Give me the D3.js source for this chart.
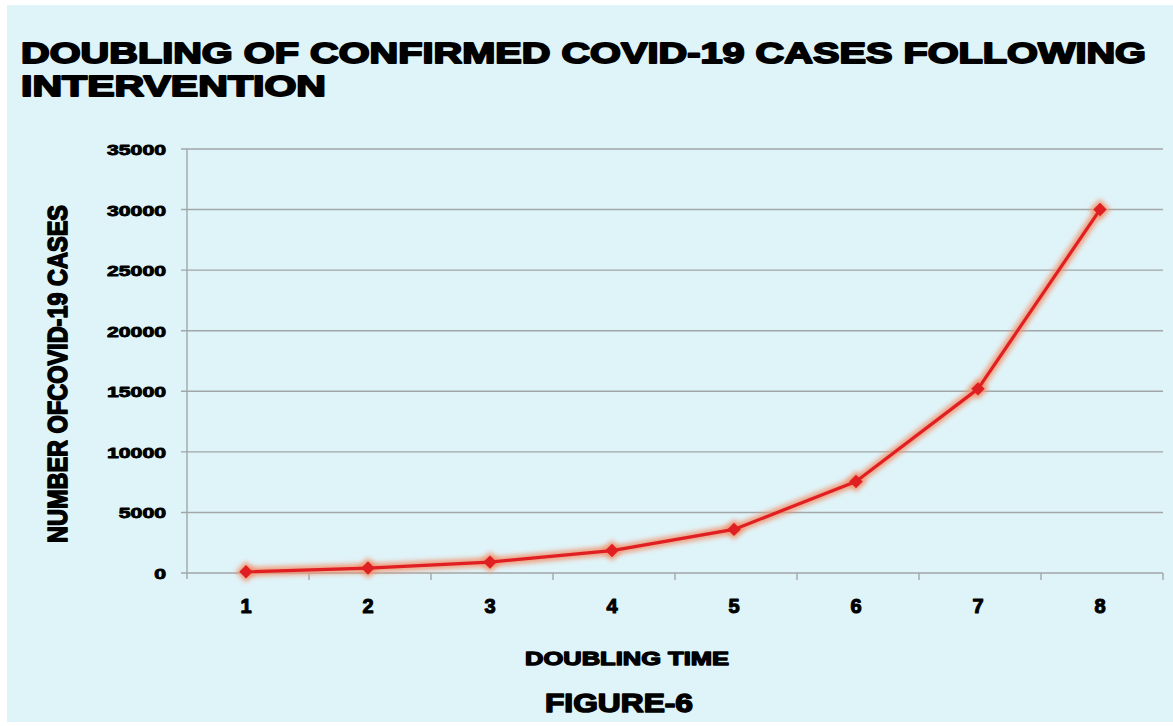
<!DOCTYPE html>
<html>
<head>
<meta charset="utf-8">
<script src="https://cdn.jsdelivr.net/npm/d3@7"></script>
<style>
  html, body { margin: 0; padding: 0; background: #ffffff; }
  svg { display: block; }
  .heavy { font-family: "Liberation Sans", Arial, sans-serif; font-weight: 700; fill: #000; stroke: #000; stroke-linejoin: round; }
</style>
</head>
<body>
<script>
// Doubling data
const categories = ["1", "2", "3", "4", "5", "6", "7", "8"];
const cases = [100, 410, 900, 1850, 3600, 7550, 15200, 30000];
const yTicks = [0, 5000, 10000, 15000, 20000, 25000, 30000, 35000];

const W = 1173, H = 726;
const plot = { left: 187, right: 1163, top: 149, bottom: 573 };

const svg = d3.select("body").append("svg").attr("width", W).attr("height", H);

// panel background
svg.append("rect").attr("x", 7).attr("y", 5).attr("width", W - 7).attr("height", 717)
  .attr("fill", "#dff4f9");

const defs = svg.append("defs");
const glow = defs.append("filter").attr("id", "glow")
  .attr("x", "-20%").attr("y", "-20%").attr("width", "140%").attr("height", "140%");
glow.append("feGaussianBlur").attr("stdDeviation", 2.4);

const x = d3.scaleBand().domain(categories).range([plot.left, plot.right]).padding(0);
const y = d3.scaleLinear().domain([0, 35000]).range([plot.bottom, plot.top]);

// gridlines
svg.append("g").selectAll("line").data(yTicks).join("line")
  .attr("x1", plot.left - 6).attr("x2", plot.right)
  .attr("y1", d => y(d)).attr("y2", d => y(d))
  .attr("stroke", "#a2a6a8").attr("stroke-width", 1.4);

// y axis line
svg.append("line").attr("x1", plot.left).attr("x2", plot.left)
  .attr("y1", plot.top).attr("y2", plot.bottom + 6)
  .attr("stroke", "#a2a6a8").attr("stroke-width", 1.4);

// x axis category ticks
const xTickPos = categories.map((c, i) => plot.left + x.bandwidth() * (i + 1));
svg.append("g").selectAll("line").data(xTickPos).join("line")
  .attr("x1", d => d).attr("x2", d => d)
  .attr("y1", plot.bottom).attr("y2", plot.bottom + 7)
  .attr("stroke", "#a2a6a8").attr("stroke-width", 1.4);

// y tick labels
svg.append("g").selectAll("text").data(yTicks).join("text")
  .attr("class", "heavy")
  .attr("x", 166).attr("y", d => y(d) + 6)
  .attr("text-anchor", "end")
  .attr("font-size", 15.5).attr("stroke-width", 0.9)
  .attr("textLength", d => String(d).length * 11.8).attr("lengthAdjust", "spacingAndGlyphs")
  .text(d => d);

// x tick labels
svg.append("g").selectAll("text").data(categories).join("text")
  .attr("class", "heavy")
  .attr("x", d => x(d) + x.bandwidth() / 2 - 2).attr("y", 613)
  .attr("text-anchor", "middle")
  .attr("font-size", 20).attr("stroke-width", 1.1)
  .text(d => d);

// series line with soft halo
const pts = categories.map((c, i) => [x(c) + x.bandwidth() / 2 - 2, y(cases[i])]);
const line = d3.line();
svg.append("path").attr("d", line(pts))
  .attr("fill", "none").attr("stroke", "#f2946f").attr("stroke-width", 9)
  .attr("stroke-linejoin", "round").attr("opacity", 0.9).attr("filter", "url(#glow)");
svg.append("g").selectAll("path").data(pts).join("path")
  .attr("d", d3.symbol().type(d3.symbolDiamond2).size(280))
  .attr("transform", d => `translate(${d[0]},${d[1]})`)
  .attr("fill", "#f2946f").attr("opacity", 0.9).attr("filter", "url(#glow)");
svg.append("path").attr("d", line(pts))
  .attr("fill", "none").attr("stroke", "#e01f22").attr("stroke-width", 3.2)
  .attr("stroke-linejoin", "round");
svg.append("g").selectAll("path").data(pts).join("path")
  .attr("d", d3.symbol().type(d3.symbolDiamond2).size(115))
  .attr("transform", d => `translate(${d[0]},${d[1]})`)
  .attr("fill", "#e01f22");

// title
const title = svg.append("text").attr("class", "heavy")
  .attr("font-size", 29).attr("stroke-width", 1.8);
title.append("tspan").attr("x", 21).attr("y", 63)
  .attr("textLength", 1125).attr("lengthAdjust", "spacingAndGlyphs")
  .text("DOUBLING OF CONFIRMED COVID-19 CASES FOLLOWING");
title.append("tspan").attr("x", 21).attr("y", 96)
  .attr("textLength", 305).attr("lengthAdjust", "spacingAndGlyphs")
  .text("INTERVENTION");

// y axis title
svg.append("text").attr("class", "heavy")
  .attr("transform", "translate(67,374) rotate(-90)")
  .attr("text-anchor", "middle")
  .attr("font-size", 28).attr("stroke-width", 1.6)
  .attr("textLength", 338).attr("lengthAdjust", "spacingAndGlyphs")
  .text("NUMBER OFCOVID-19 CASES");

// x axis title
svg.append("text").attr("class", "heavy")
  .attr("x", 525).attr("y", 665)
  .attr("font-size", 19).attr("stroke-width", 1.3)
  .attr("textLength", 204).attr("lengthAdjust", "spacingAndGlyphs")
  .text("DOUBLING TIME");

// figure caption
svg.append("text").attr("class", "heavy")
  .attr("x", 545).attr("y", 712)
  .attr("font-size", 26).attr("stroke-width", 1.5)
  .attr("textLength", 148).attr("lengthAdjust", "spacingAndGlyphs")
  .text("FIGURE-6");
</script>
</body>
</html>
